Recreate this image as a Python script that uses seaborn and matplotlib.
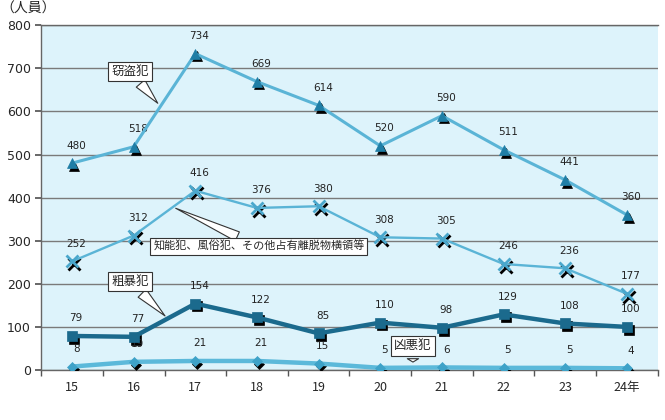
import numpy as np
import pandas as pd
import matplotlib
matplotlib.use("Agg")
import matplotlib.pyplot as plt
import matplotlib.transforms as mtransforms
import seaborn as sns

years = ["15", "16", "17", "18", "19", "20", "21", "22", "23", "24"]
year_labels = ["15", "16", "17", "18", "19", "20", "21", "22", "23", "24年"]
theft = [480, 518, 734, 669, 614, 520, 590, 511, 441, 360]
intellect = [252, 312, 416, 376, 380, 308, 305, 246, 236, 177]
violent = [79, 77, 154, 122, 85, 110, 98, 129, 108, 100]
heinous = [8, 19, 21, 21, 15, 5, 6, 5, 5, 4]

sns.set_theme(style="white")
plt.rcParams["font.family"] = ["Noto Sans CJK JP", "DejaVu Sans"]

fig = plt.figure(figsize=(6.65, 4.2), dpi=100)
ax = fig.add_axes([0.062, 0.119, 0.927, 0.821])
ax.set_facecolor("#ddf3fb")

df = pd.DataFrame({"year": years, "theft": theft, "intellect": intellect,
                   "violent": violent, "heinous": heinous})

series = [
    ("theft", "#5ab4d6", 2.2, "^", 6.5, "#1f7ea6"),
    ("intellect", "#5ab4d6", 1.7, "x", 9, "#4aa7cc"),
    ("violent", "#1b6a8d", 3.2, "s", 6.5, "#1b6a8d"),
    ("heinous", "#5cb9da", 3.2, "D", 5.5, "#3ea2c8"),
]

shadow = mtransforms.offset_copy(ax.transData, fig=fig, x=1.5, y=-2.0, units="points")
pos = np.arange(len(years))
for col, color, lw, mk, ms, mc in series:
    # black marker shadow
    ax.plot(pos, df[col], linestyle="none", marker=mk, markersize=ms,
            color="black", markeredgecolor="black",
            markeredgewidth=2.0 if mk == "x" else 0.5, transform=shadow, zorder=3)
    sns.lineplot(ax=ax, x=pos, y=df[col], color=color, linewidth=lw,
                 marker=mk, markersize=ms, markerfacecolor=mc,
                 markeredgecolor=mc, markeredgewidth=2.0 if mk == "x" else 0.5,
                 zorder=4)
    for i, v in enumerate(df[col]):
        ax.annotate(str(v), (i, v), xytext=(3, 9), textcoords="offset points",
                    ha="center", va="bottom", fontsize=7.5, color="#222222",
                    family="DejaVu Sans")

ax.set_xlim(-0.5, 9.5)
ax.set_ylim(0, 800)
ax.set_yticks(range(0, 801, 100))
ax.set_xticks(pos)
ax.set_xticklabels(year_labels, fontsize=9)
ax.set_xticks(np.arange(-0.5, 10, 1), minor=True)
ax.tick_params(axis="x", which="major", length=0, pad=8)
ax.tick_params(axis="x", which="minor", length=4, direction="out", color="#555555", bottom=True)
ax.tick_params(axis="y", labelsize=9, length=4, direction="out", left=True, color="#555555")
for lab in ax.get_yticklabels():
    lab.set_family("DejaVu Sans")
ax.grid(axis="y", color="#7a7a7a", linewidth=1.0)
ax.set_axisbelow(True)
ax.set_xlabel("")
ax.set_ylabel("")
for side in ["left", "bottom", "top"]:
    ax.spines[side].set_color("#666666")
    ax.spines[side].set_linewidth(1.0)
ax.spines["right"].set_visible(False)

box = dict(boxstyle="square,pad=0.25", fc="white", ec="#333333", lw=0.8)
wedge = dict(arrowstyle="wedge,tail_width=0.9", fc="white", ec="#333333", lw=0.8)
ax.annotate("窃盗犯", xy=(1.42, 614), xytext=(0.94, 693), fontsize=9,
            ha="center", va="center", bbox=box, arrowprops=wedge, zorder=6)
ax.annotate("知能犯、風俗犯、その他占有離脱物横領等", xy=(1.64, 378), xytext=(3.03, 287),
            fontsize=8, ha="center", va="center", bbox=box, arrowprops=wedge, zorder=6)
ax.annotate("粗暴犯", xy=(1.54, 121), xytext=(0.94, 206), fontsize=9,
            ha="center", va="center", bbox=box, arrowprops=wedge, zorder=6)
ax.annotate("凶悪犯", xy=(5.53, 12), xytext=(5.53, 56), fontsize=9,
            ha="center", va="center", bbox=box, arrowprops=wedge, zorder=6)

fig.text(0.0, 0.995, "（人員）", fontsize=10, ha="left", va="top")

fig.savefig("out.png", dpi=100)
